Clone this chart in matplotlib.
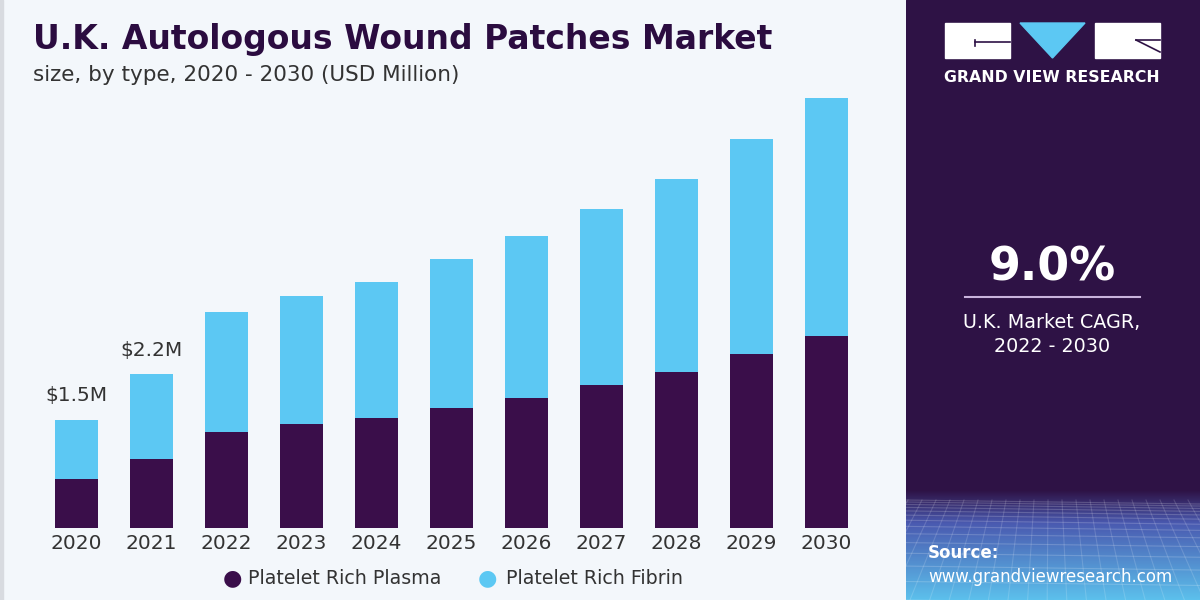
import numpy as np
import matplotlib
matplotlib.use("Agg")
import matplotlib.pyplot as plt
from matplotlib.patches import Rectangle, Polygon

# ---- data (USD million) ----
years = ["2020", "2021", "2022", "2023", "2024", "2025",
         "2026", "2027", "2028", "2029", "2030"]
plasma = [0.68, 0.96, 1.35, 1.46, 1.54, 1.68, 1.82, 2.01, 2.19, 2.44, 2.70]
fibrin = [0.84, 1.20, 1.69, 1.80, 1.92, 2.10, 2.29, 2.48, 2.72, 3.03, 3.35]
total_labels = {0: "$1.5M", 1: "$2.2M"}

DARK = "#3a0e4a"
LIGHT = "#5cc8f3"
PANEL = "#2e1245"
BG = "#f3f7fb"
TEXT = "#333333"

fig = plt.figure(figsize=(12, 6), dpi=100)
fig.patch.set_facecolor(BG)

# ---- bar chart ----
ax = fig.add_axes([40 / 1200, 72.5 / 600, 840 / 1200, 437.5 / 600])
ax.set_facecolor(BG)
x = np.arange(len(years))
ax.bar(x, plasma, width=0.573, color=DARK, zorder=2)
ax.bar(x, fibrin, width=0.573, bottom=plasma, color=LIGHT, zorder=2)
ax.set_xlim(-0.4867, 10.713)
ax.set_ylim(0, 6.162)
for i, lab in total_labels.items():
    ax.text(x[i], plasma[i] + fibrin[i] + 0.2, lab, ha="center", va="bottom",
            fontsize=14.5, color=TEXT)
ax.set_xticks(x)
ax.set_xticklabels(years, fontsize=14.5, color=TEXT)
ax.tick_params(axis="x", length=0, pad=5)
ax.set_yticks([])
for s in ax.spines.values():
    s.set_visible(False)

# legend
ly = 1 - 578 / 600
fig.text(232 / 1200, ly, "\u25CF", color=DARK, fontsize=16,
         ha="center", va="center")
fig.text(248 / 1200, ly, "Platelet Rich Plasma", color=TEXT,
         fontsize=13.7, ha="left", va="center")
fig.text(487 / 1200, ly, "\u25CF", color=LIGHT, fontsize=16,
         ha="center", va="center")
fig.text(506 / 1200, ly, "Platelet Rich Fibrin", color=TEXT,
         fontsize=13.7, ha="left", va="center")

# titles
fig.text(33 / 1200, 1 - 40 / 600, "U.K. Autologous Wound Patches Market",
         fontsize=23.8, fontweight="heavy", color="#2b0c40",
         ha="left", va="center")
fig.text(33 / 1200, 1 - 75 / 600, "size, by type, 2020 - 2030 (USD Million)",
         fontsize=15.5, color=TEXT, ha="left", va="center")

# left edge border
fig.add_artist(Rectangle((0, 0), 3 / 1200, 1, transform=fig.transFigure,
                         color="#d8dbe0", zorder=0))

# ---- right panel ----
pa = fig.add_axes([906 / 1200, 0, 294 / 1200, 1])
pa.set_facecolor(PANEL)
pa.axis("off")
pa.add_patch(Rectangle((906, 0), 294, 600, color=PANEL, zorder=0))

# bottom gradient with grid
grad = np.linspace(0, 1, 100)
c_top = np.array([0x2e, 0x12, 0x45]) / 255
c_mid = np.array([0x4a, 0x5a, 0xb0]) / 255
c_bot = np.array([0x5c, 0xc0, 0xec]) / 255
img = np.zeros((100, 1, 3))
for k, g in enumerate(grad):
    if g < 0.3:
        t = g / 0.3
        img[k, 0] = c_top * (1 - t) + c_mid * t
    else:
        t = (g - 0.3) / 0.7
        img[k, 0] = c_mid * (1 - t) + c_bot * t
pa.imshow(img, extent=(906, 1200, 600, 490), aspect="auto", zorder=1)
for yy in np.geomspace(10, 110, 14):
    pa.plot([906, 1200], [490 + yy, 490 + yy + 4], color="white",
            alpha=0.18, lw=0.8, zorder=2)
for xx in np.arange(880, 1240, 14):
    pa.plot([xx, xx + (xx - 1050) * 0.4], [500, 600], color="white",
            alpha=0.15, lw=0.8, zorder=2)
pa.set_xlim(906, 1200)
pa.set_ylim(600, 0)

# logo
pa.add_patch(Rectangle((945, 23), 65, 35, color="white", zorder=3))
pa.plot([975, 1010], [42, 42], color=PANEL, lw=1.2, zorder=4)
pa.plot([975, 975], [40, 46], color=PANEL, lw=1.2, zorder=4)
pa.add_patch(Polygon([(1020, 23), (1085, 23), (1052.5, 58)], color=LIGHT, zorder=3))
pa.add_patch(Rectangle((1095, 23), 65, 35, color="white", zorder=3))
pa.plot([1136, 1160], [40, 40], color=PANEL, lw=1.2, zorder=4)
pa.plot([1136, 1160], [40, 52], color=PANEL, lw=1.2, zorder=4)
pa.text(1052, 78, "GRAND VIEW RESEARCH", color="white", fontsize=11.3,
        fontweight="bold", ha="center", va="center", zorder=4)

# CAGR
pa.text(1052, 268, "9.0%", color="white", fontsize=33, fontweight="bold",
        ha="center", va="center", zorder=4)
pa.plot([965, 1140], [297, 297], color="#c9b3dc", lw=1.5, zorder=4)
pa.text(1052, 323, "U.K. Market CAGR,", color="white", fontsize=13.8,
        ha="center", va="center", zorder=4)
pa.text(1052, 347, "2022 - 2030", color="white", fontsize=13.8,
        ha="center", va="center", zorder=4)

# source
pa.text(928, 553, "Source:", color="white", fontsize=12, fontweight="bold",
        ha="left", va="center", zorder=4)
pa.text(928, 577, "www.grandviewresearch.com", color="white", fontsize=12,
        ha="left", va="center", zorder=4)

fig.savefig("out.png", dpi=100, facecolor=BG)
